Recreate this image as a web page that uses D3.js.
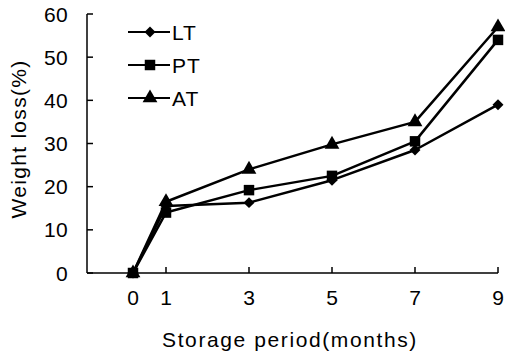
<!DOCTYPE html>
<html>
<head>
<meta charset="utf-8">
<script src="https://cdn.jsdelivr.net/npm/d3@7"></script>
<style>
  html, body { margin: 0; padding: 0; background: #fff; }
  svg { display: block; font-family: "Liberation Sans", Arial, sans-serif; }
</style>
</head>
<body>
<svg id="chart" width="505" height="354"></svg>
<script>
const months = [0, 1, 3, 5, 7, 9];
const seriesNames = ["LT", "PT", "AT"];
const ltValues = [0, 15.5, 16.3, 21.5, 28.5, 39];
const ptValues = [0, 14, 19.2, 22.5, 30.5, 54];
const atValues = [0, 16.5, 24, 29.8, 35, 57];
const yTicks = [0, 10, 20, 30, 40, 50, 60];
const xTicks = [0, 1, 3, 5, 7, 9];

const series = [
  { name: seriesNames[0], values: ltValues, symbol: d3.symbolSquare, size: 60, rot: 45 },
  { name: seriesNames[1], values: ptValues, symbol: d3.symbolSquare, size: 110, rot: 0 },
  { name: seriesNames[2], values: atValues, symbol: d3.symbolTriangle, size: 95, rot: 0 }
];
const drawOrder = [2, 0, 1];

const svg = d3.select("#chart");
// x axis: 0 is placed closer to 1 than the regular spacing (as in the original)
const x = d3.scaleLinear().domain([0, 1, 9]).range([133, 166, 498]);
const y = d3.scaleLinear().domain([0, 60]).range([273, 14]);
const axisLeft = 87, axisRight = 498;

const axes = svg.append("g").attr("stroke", "#000").attr("stroke-width", 1.5).attr("fill", "none");
axes.append("line").attr("x1", axisLeft).attr("x2", axisLeft).attr("y1", y(60)).attr("y2", y(0));
axes.append("line").attr("x1", axisLeft).attr("x2", axisRight).attr("y1", y(0)).attr("y2", y(0));
yTicks.forEach(t => {
  axes.append("line").attr("x1", axisLeft).attr("x2", axisLeft + 6).attr("y1", y(t)).attr("y2", y(t));
});
xTicks.forEach(t => {
  axes.append("line").attr("x1", x(t)).attr("x2", x(t)).attr("y1", y(0)).attr("y2", y(0) - 6);
});

// tick labels
svg.append("g").selectAll("text").data(yTicks).join("text")
  .attr("x", 68).attr("y", d => y(d)).attr("dy", "0.36em")
  .attr("text-anchor", "end").attr("font-size", 21).attr("letter-spacing", 0.3)
  .text(d => d);
svg.append("g").selectAll("text").data(xTicks).join("text")
  .attr("x", d => x(d)).attr("y", 305)
  .attr("text-anchor", "middle").attr("font-size", 21)
  .text(d => d);

// axis titles
svg.append("text").attr("x", 290).attr("y", 347).attr("text-anchor", "middle")
  .attr("font-size", 21).attr("letter-spacing", 1.6).text("Storage period(months)");
svg.append("text").attr("transform", "translate(26,139) rotate(-90)").attr("text-anchor", "middle")
  .attr("font-size", 21).attr("letter-spacing", 1.3).text("Weight loss(%)");

// lines
const line = d3.line().x((d, i) => x(months[i])).y(d => y(d));
const g = svg.append("g");
series.forEach(s => {
  g.append("path").attr("d", line(s.values)).attr("fill", "none")
    .attr("stroke", "#000").attr("stroke-width", 2.5).attr("stroke-linejoin", "round");
});
drawOrder.forEach(k => {
  const s = series[k];
  g.selectAll(null).data(s.values).join("path")
    .attr("transform", (d, i) => `translate(${x(months[i])},${y(d)}) rotate(${s.rot})`)
    .attr("d", d3.symbol().type(s.symbol).size(s.size))
    .attr("fill", "#000");
});

// legend
const legendRows = [32, 65, 98];
const lg = svg.append("g");
series.forEach((s, i) => {
  const ly = legendRows[i];
  lg.append("line").attr("x1", 128).attr("x2", 170).attr("y1", ly).attr("y2", ly)
    .attr("stroke", "#000").attr("stroke-width", 2.2);
  lg.append("path").attr("transform", `translate(150,${ly}) rotate(${s.rot})`)
    .attr("d", d3.symbol().type(s.symbol).size(s.size)).attr("fill", "#000");
  lg.append("text").attr("x", 172).attr("y", ly).attr("dy", "0.36em")
    .attr("font-size", 21).attr("letter-spacing", 1).text(s.name);
});
</script>
</body>
</html>
